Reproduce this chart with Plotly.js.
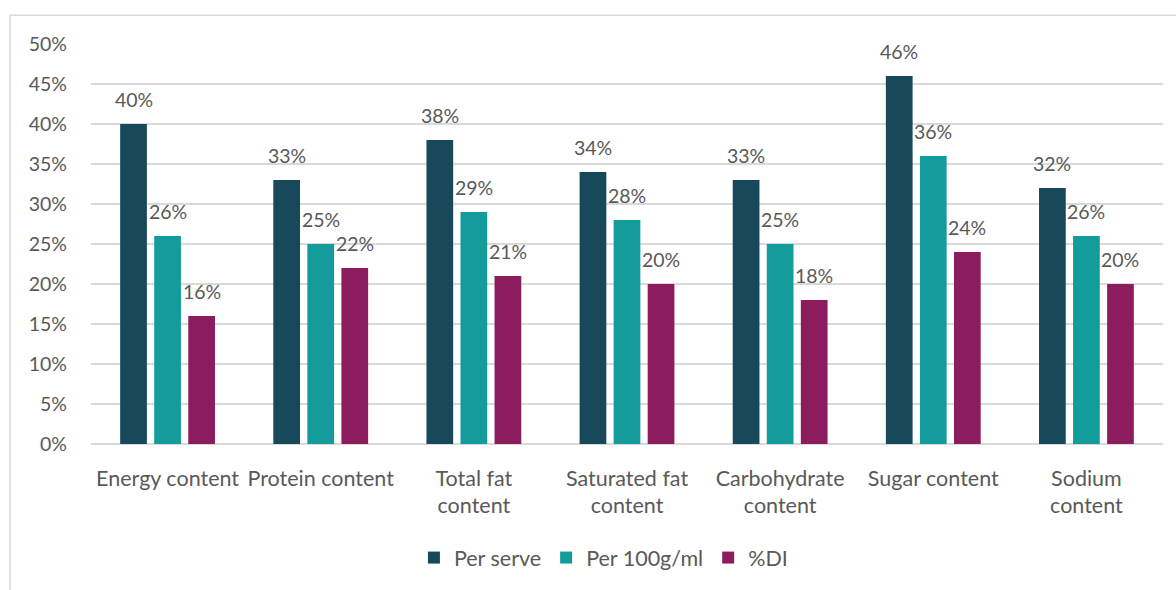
<!DOCTYPE html>
<html>
<head>
<meta charset="utf-8">
<script src="https://cdn.plot.ly/plotly-3.0.1.min.js"></script>
<style>
  html, body { margin: 0; padding: 0; background: #ffffff; }
  #chart { width: 1176px; height: 590px; }
</style>
</head>
<body>
<div id="chart"></div>
<script>
// Nutrient categories (line breaks where the axis labels wrap)
const categories = [
  'Energy content',
  'Protein content',
  'Total fat<br>content',
  'Saturated fat<br>content',
  'Carbohydrate<br>content',
  'Sugar content',
  'Sodium<br>content'
];

// Percentages for each measure
const perServe = [0.40, 0.33, 0.38, 0.34, 0.33, 0.46, 0.32];
const per100 = [0.26, 0.25, 0.29, 0.28, 0.25, 0.36, 0.26];
const pctDI = [0.16, 0.22, 0.21, 0.20, 0.18, 0.24, 0.20];

const seriesNames = ['Per serve', 'Per 100g/ml', '%DI'];
const seriesColors = ['#17495A', '#149B9B', '#8D1C5F'];
const seriesValues = [perServe, per100, pctDI];

const fontFamily = 'Lato, "Open Sans", sans-serif';
const textGrey = '#595959';
const numSize = 19.5;
const wordSize = 21.5;

const traces = seriesValues.map((vals, i) => ({
  type: 'bar',
  name: seriesNames[i],
  x: categories,
  y: vals,
  marker: { color: seriesColors[i] },
  hoverinfo: 'x+y+name'
}));

// Value labels floating above each bar, offset sideways to their bar in the group
const slotPx = 34;
const annotations = [];
seriesValues.forEach((vals, i) => {
  vals.forEach((v, j) => {
    annotations.push({
      x: categories[j],
      y: v,
      xref: 'x',
      yref: 'y',
      text: Math.round(v * 100) + '%',
      showarrow: false,
      xanchor: 'center',
      yanchor: 'middle',
      xshift: (i - 1) * slotPx,
      yshift: 25,
      font: { family: fontFamily, size: numSize, color: textGrey }
    });
  });
});

const layout = {
  width: 1176,
  height: 590,
  margin: { l: 91, r: 13, t: 44, b: 144 },
  paper_bgcolor: '#ffffff',
  plot_bgcolor: '#ffffff',
  font: { family: fontFamily, size: wordSize, color: textGrey },
  barmode: 'group',
  bargap: 0.333,
  bargroupgap: 0.215,
  showlegend: true,
  legend: {
    orientation: 'h',
    x: 0.478,
    xanchor: 'center',
    y: -0.284,
    yanchor: 'middle',
    font: { family: fontFamily, size: wordSize, color: textGrey },
    itemwidth: 30,
    traceorder: 'normal'
  },
  xaxis: {
    type: 'category',
    showgrid: false,
    showline: false,
    ticks: '',
    ticklabelstandoff: 19,
    tickfont: { family: fontFamily, size: wordSize, color: textGrey },
    fixedrange: true
  },
  yaxis: {
    range: [0, 0.5],
    dtick: 0.05,
    tickformat: '.0%',
    showgrid: true,
    gridcolor: '#d9d9d9',
    gridwidth: 1.5,
    zeroline: true,
    zerolinecolor: '#d9d9d9',
    zerolinewidth: 1.5,
    showline: false,
    ticks: '',
    ticklabelstandoff: 23,
    tickfont: { family: fontFamily, size: numSize, color: textGrey },
    fixedrange: true
  },
  annotations: annotations,
  shapes: [{
    type: 'rect',
    xref: 'paper',
    yref: 'paper',
    x0: -0.0756,
    x1: 1.05,
    y0: -0.45,
    y1: 1.072,
    line: { color: '#d9d9d9', width: 1.5 },
    fillcolor: 'rgba(0,0,0,0)',
    layer: 'below'
  }]
};

Plotly.newPlot('chart', traces, layout, { displayModeBar: false, staticPlot: true });
</script>
</body>
</html>
